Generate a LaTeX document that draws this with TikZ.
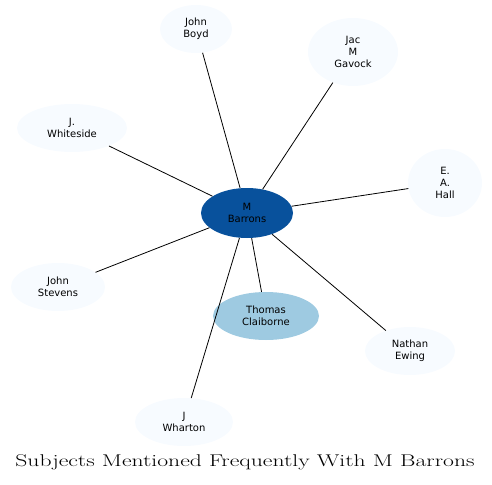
\documentclass[tikz,border=0pt]{standalone}
\usepackage{fontspec}
\newfontfamily\nodefont{DejaVu Sans}
\usetikzlibrary{shapes.geometric}
\definecolor{mbcentre}{HTML}{08519C}
\definecolor{mbnear}{HTML}{9ECAE1}
\definecolor{mbfar}{HTML}{F7FBFF}

\begin{document}
\begin{tikzpicture}[x=1pt,y=-1pt,font=\nodefont\fontsize{10}{12}\selectfont,
  subj/.style={ellipse,fill=mbfar,inner sep=0pt,align=center},
  hub/.style={ellipse,fill=mbcentre,inner sep=0pt,align=center,minimum width=92pt,minimum height=50pt},
  near/.style={ellipse,fill=mbnear,inner sep=0pt,align=center,minimum width=106pt,minimum height=48pt}]
\useasboundingbox (0,0) rectangle (492,484);
\node[hub](barrons) at (247,213){M\\Barrons};
\node[near](claiborne) at (266,316){Thomas\\Claiborne};
\node[subj,minimum width=72pt,minimum height=48pt](boyd) at (196,29){John\\Boyd};
\node[subj,minimum width=90pt,minimum height=68pt](gavock) at (353,52){Jac\\M\\Gavock};
\node[subj,minimum width=74pt,minimum height=68pt](hall) at (445,183){E.\\A.\\Hall};
\node[subj,minimum width=110pt,minimum height=48pt](whiteside) at (72,128){J.\\Whiteside};
\node[subj,minimum width=94pt,minimum height=48pt](stevens) at (58,287){John\\Stevens};
\node[subj,minimum width=90pt,minimum height=48pt](ewing) at (410,351){Nathan\\Ewing};
\node[subj,minimum width=98pt,minimum height=48pt](wharton) at (184,422){J\\Wharton};
\foreach \s in {claiborne,boyd,gavock,hall,whiteside,stevens,ewing,wharton}
  \draw[line width=0.8pt] (barrons)--(\s);
\node[font=\fontsize{17}{19}\selectfont](title) at (245,462){\scalebox{1.39}[1]{Subjects Mentioned Frequently With M Barrons}};
\end{tikzpicture}
\end{document}
